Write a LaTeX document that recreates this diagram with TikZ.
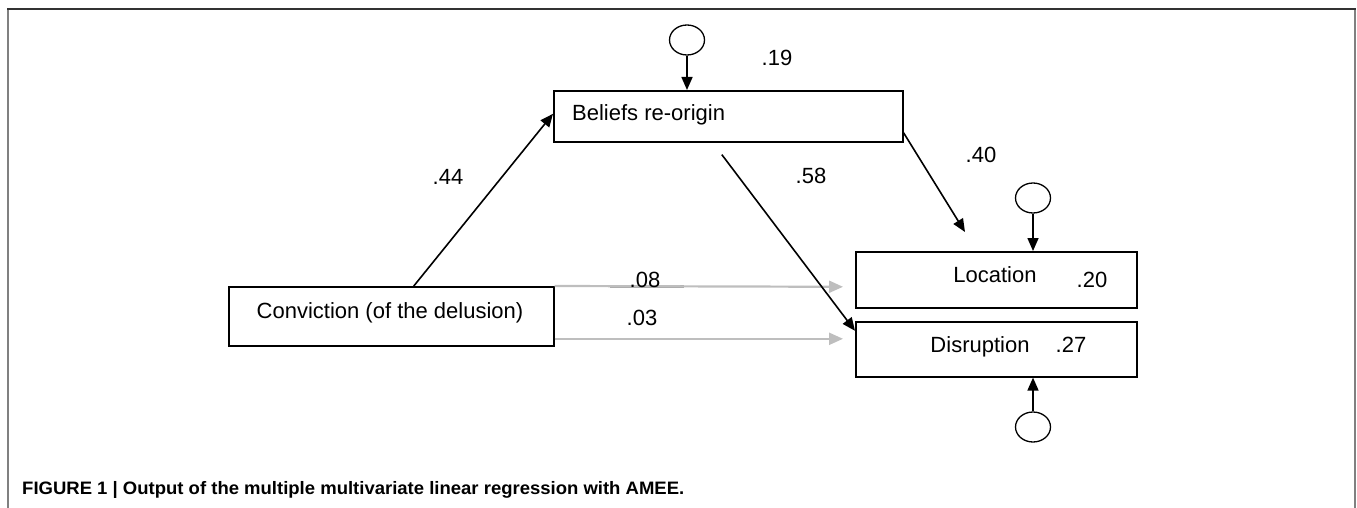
\documentclass[tikz,border=0pt]{standalone}
\usepackage{fontspec}
\setmainfont{Liberation Sans}
\newfontfamily\diagfont{Liberation Sans}
\usetikzlibrary{arrows.meta,shapes.geometric,calc}
\definecolor{framegray}{RGB}{128,128,128}
\definecolor{framedark}{RGB}{50,50,50}
\definecolor{lightarrow}{RGB}{190,190,190}
\definecolor{midgray}{RGB}{165,165,165}
\begin{document}
\begin{tikzpicture}[x=1pt,y=-1pt,
  box/.style={draw=black,line width=1.6pt,rectangle,inner sep=0pt,anchor=north west},
  err/.style={draw=black,line width=1.3pt,ellipse,inner sep=0pt,minimum width=35pt,minimum height=30pt},
  txt/.style={inner sep=0pt,font=\diagfont\fontsize{22}{26}\selectfont},
  arr/.style={draw=black,line width=1.6pt,-{Triangle[length=13pt,width=11pt]}},
  garr/.style={draw=lightarrow,line width=2.2pt,-{Triangle[length=14pt,width=12pt]}}]
\useasboundingbox (0,0) rectangle (1357,508);
% frame
\draw[framegray,line width=2pt] (8,9) -- (8,508);
\draw[framegray,line width=2pt] (1355,9) -- (1355,508);
\draw[framedark,line width=1.5pt] (7,9) -- (1356,9);
% boxes
\node[box,minimum width=349pt,minimum height=51pt] (bel) at (553,90) {};
\node[box,minimum width=325pt,minimum height=59pt] (conv) at (228,286) {};
\node[box,minimum width=281pt,minimum height=56pt] (loc) at (855,251) {};
\node[box,minimum width=281pt,minimum height=55pt] (disr) at (855,321) {};
% error terms
\node[err] (e1) at (687,40) {};
\node[err] (e2) at (1033,198) {};
\node[err] (e3) at (1033,427) {};
\coordinate (t40) at (965,232);
% gray paths
\draw[midgray,line width=3pt] ($(conv.north east)+(55,0)$) -- ++(74,0);
\draw[garr] (conv.north east) -- ([xshift=-12pt,yshift=-7pt]loc.west);
\draw[garr] ([yshift=-22.5pt]conv.east) -- ([xshift=-12pt,yshift=10.5pt]disr.west);
% black paths
\draw[arr] (e1.south) -- (e1.south |- bel.north);
\draw[arr] (e2.south) -- (e2.south |- loc.north);
\draw[arr] (e3.north) -- (e3.north |- disr.south);
\draw[arr] ([xshift=22.5pt]conv.north) -- ([yshift=2.5pt]bel.west);
\draw[arr] ([xshift=-6.5pt,yshift=-12pt]bel.south) -- ([yshift=18.5pt]disr.west);
\draw[arr] ([yshift=-16.5pt]bel.east) -- (t40);
% texts
\node[txt,anchor=base west] (tbel) at (572,121) {Beliefs re-origin};
\node[txt,anchor=base] (tconv) at (390,318) {Conviction (of the delusion)};
\node[txt,anchor=base] (tloc) at (995,282) {Location};
\node[txt,anchor=base] (tdis) at (980,352) {Disruption};
\node[txt,anchor=base] (n19) at (777,66) {.19};
\node[txt,anchor=base] (n44) at (448,184) {.44};
\node[txt,anchor=base] (n58) at (811,183) {.58};
\node[txt,anchor=base] (n40) at (981,162) {.40};
\node[txt,anchor=base] (n08) at (645,287) {.08};
\node[txt,anchor=base] (n03) at (642,325) {.03};
\node[txt,anchor=base] (n20) at (1092,287) {.20};
\node[txt,anchor=base] (n27) at (1071,352) {.27};
% caption
\node[anchor=base west,inner sep=0pt,font=\bfseries\fontsize{18}{20}\selectfont] (cap) at (22,494)
  {\resizebox{662pt}{\height}{FIGURE 1 | Output of the multiple multivariate linear regression with AMEE.}};
\end{tikzpicture}
\end{document}
